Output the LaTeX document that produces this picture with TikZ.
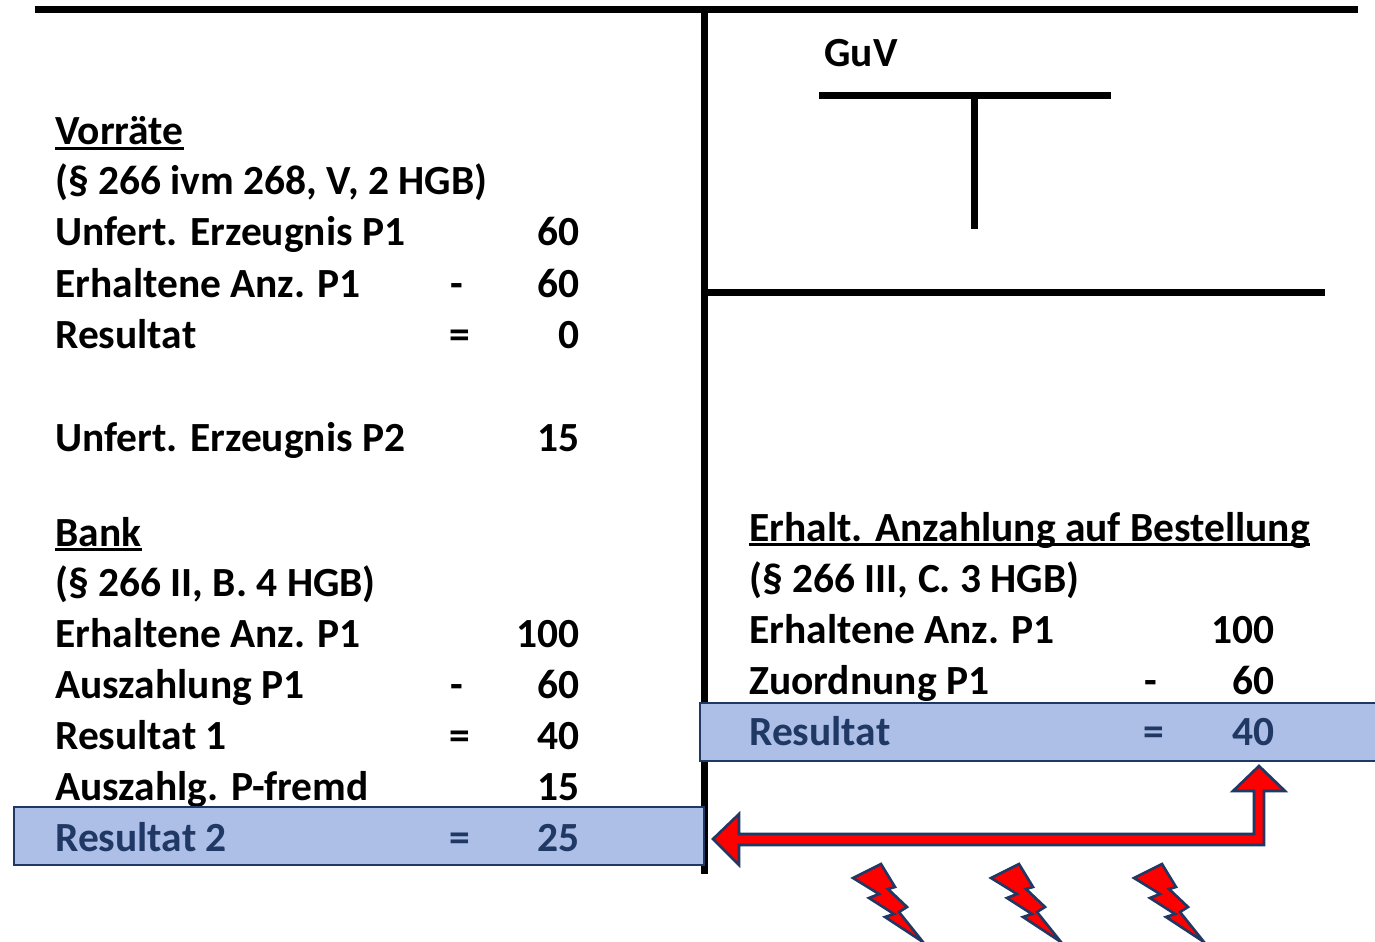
\documentclass[tikz,border=0pt]{standalone}
\usepackage{fontspec}
\setmainfont{Carlito}
\usetikzlibrary{positioning}
\definecolor{navy}{HTML}{1F3864}
\definecolor{boxblue}{HTML}{ADBFE6}
\definecolor{flash}{HTML}{FF0000}
\tikzset{
  rowtext/.style={anchor=base west, inner sep=0pt, font=\fontsize{23.6}{28}\selectfont\bfseries},
  rownum/.style={anchor=base east, inner sep=0pt, font=\fontsize{23.6}{28}\selectfont\bfseries},
  rowsign/.style={anchor=base, inner sep=0pt, font=\fontsize{23.6}{28}\selectfont\bfseries},
  heavy/.style={line width=7*0.5692pt},
  resultbox/.style={draw=navy, fill=boxblue, line width=1.2pt},
  redshape/.style={draw=navy, fill=flash, line width=1.5pt, line join=miter},
  underl/.style={line width=1.2pt}
}
\begin{document}
\begin{tikzpicture}[x=0.02cm, y=-0.02cm]
\useasboundingbox (0,0) rectangle (1375,942);
% frame lines
\coordinate (topl) at (35,10);
\coordinate (topr) at (1358,10);
\coordinate (midt) at (704,10);
\coordinate (midb) at (704,874);
\coordinate (guvl) at (704,293);
\coordinate (guvr) at (1325,293);
\draw[heavy] (topl) -- (topr);
\draw[heavy] (midt) -- (midb);
\draw[heavy] (guvl) -- (guvr);
\draw[heavy] (819,96) -- (1111,96);
\draw[heavy] (974,96) -- (974,229);
\node[rowtext] (guv) at (824,67) {GuV};
% left column
\foreach \nm/\yy/\txt in {vorr/145/Vorräte, vorrb/195/{(§ 266 ivm 268, V, 2 HGB)},
  ufa/246/Unfert. Erzeugnis P1, eaa/297/Erhaltene Anz. P1, resa/348/Resultat,
  ufb/451/Unfert. Erzeugnis P2, bank/546/Bank, bankb/596/{(§ 266 II, B. 4 HGB)},
  eab/647/Erhaltene Anz. P1, ausz/698/Auszahlung P1, resb/749/Resultat 1, auszf/800/Auszahlg. P-fremd}
  \node[rowtext] (\nm) at (55,\yy) {\txt};
\foreach \nm/\yy/\txt in {nufa/246/60, neaa/297/60, nresa/348/0, nufb/451/15,
  neab/647/100, nausz/698/60, nresb/749/40, nauszf/800/15}
  \node[rownum] (\nm) at (580,\yy) {\txt};
\node[rowsign] (ma) at (457,297) {-};
\node[rowsign] (ea) at (460,348) {=};
\node[rowsign] (mb) at (457,698) {-};
\node[rowsign] (eb) at (460,749) {=};
\draw[resultbox] (14,807) rectangle (704,865);
\node[rowtext, text=navy] (resc) at (55,851) {Resultat 2};
\node[rowsign, text=navy] (ec) at (460,851) {=};
\node[rownum, text=navy] (nresc) at (580,851) {25};
% right column
\foreach \nm/\yy/\txt in {erh/541/Erhalt. Anzahlung auf Bestellung, erhb/592/{(§ 266 III, C. 3 HGB)},
  eac/643/Erhaltene Anz. P1, zuo/694/Zuordnung P1}
  \node[rowtext] (\nm) at (749,\yy) {\txt};
\node[rownum] (neac) at (1275,643) {100};
\node[rownum] (nzuo) at (1275,694) {60};
\node[rowsign] (md) at (1151,694) {-};
\draw[resultbox] (700,703) rectangle (1385,761);
\node[rowtext, text=navy] (resd) at (749,745) {Resultat};
\node[rowsign, text=navy] (ed) at (1154,745) {=};
\node[rownum, text=navy] (nresd) at (1275,745) {40};
% underlines
\foreach \nm in {vorr, bank, erh}
  \draw[underl] ([yshift=-2pt]\nm.base west) -- ([yshift=-2pt]\nm.base east);
% double arrow
\draw[redshape] (713,839) -- (739,814) -- (739,834) -- (1254,834) -- (1254,791) -- (1233,791)
  -- (1259,766) -- (1285,791) -- (1264,791) -- (1264,845) -- (739,845) -- (739,865) -- cycle;
% flashes
\foreach \dx in {0,138,281}
  \draw[redshape, shift={(\dx,0)}] (881,864) -- (895,887) -- (888,889) -- (907,907) -- (899,912)
    -- (923,942) -- (885,917) -- (894,914) -- (869,898) -- (879,894) -- (853,878) -- cycle;
\end{tikzpicture}
\end{document}
